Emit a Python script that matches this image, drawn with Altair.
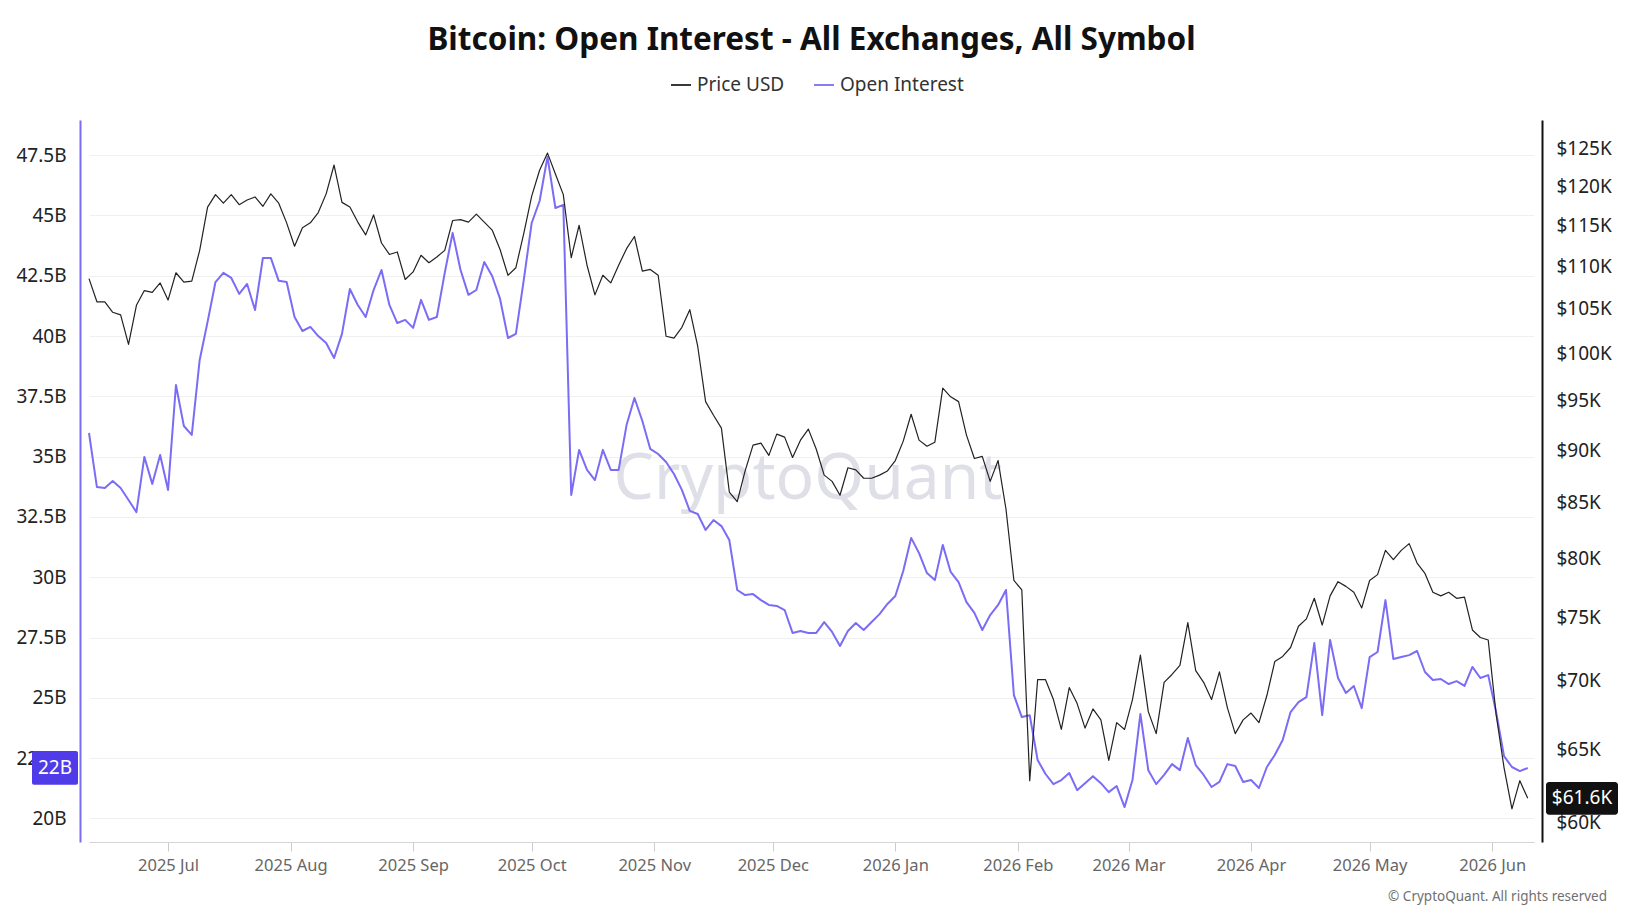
import altair as alt
import pandas as pd

TITLE = "Bitcoin: Open Interest - All Exchanges, All Symbol"
SERIES = ["Price USD", "Open Interest"]
SERIES_COLORS = ["#222222", "#7b6cf6"]
START_DATE = "2025-06-11"
STEP = "2D"
WATERMARK = "CryptoQuant"
COPYRIGHT = "\u00a9 CryptoQuant. All rights reserved"

# Bitcoin price, thousands of USD, every 2 days from 2025-06-11
price_usd_k = [
    108.5, 105.8, 105.8, 104.6, 104.3, 101.0, 105.4, 107.1, 106.9, 108.0,
    106.0, 109.2, 108.1, 108.2, 111.9, 117.3, 118.9, 117.8, 118.9, 117.6,
    118.2, 118.6, 117.4, 119.0, 117.8, 115.3, 112.4, 114.7, 115.3, 116.6,
    119.0, 122.8, 117.9, 117.3, 115.4, 113.8, 116.3, 112.8, 111.4, 111.7,
    108.4, 109.3, 111.3, 110.4, 111.1, 111.9, 115.6, 115.7, 115.4, 116.4,
    115.4, 114.4, 112.0, 108.9, 109.8, 114.0, 118.7, 122.1, 124.4, 121.6,
    118.9, 111.0, 115.0, 110.1, 106.6, 108.9, 108.0, 110.1, 112.1, 113.6,
    109.4, 109.6, 108.9, 101.9, 101.7, 102.9, 104.9, 100.8, 94.9, 93.5,
    92.2, 86.0, 85.1, 88.0, 90.5, 90.7, 89.5, 91.6, 91.3, 89.3,
    91.0, 92.1, 90.1, 87.6, 87.0, 85.7, 88.3, 88.1, 87.3, 87.3,
    87.6, 88.0, 89.0, 90.9, 93.6, 91.0, 90.4, 90.8, 96.3, 95.4,
    94.9, 91.5, 89.2, 89.4, 87.0, 89.0, 84.4, 78.1, 77.3, 62.8,
    70.1, 70.1, 68.6, 66.4, 69.5, 68.3, 66.5, 67.9, 67.1, 64.2,
    66.9, 66.4, 68.6, 72.0, 67.7, 66.1, 69.9, 70.5, 71.2, 74.6,
    70.8, 69.9, 68.6, 70.7, 68.0, 66.1, 67.1, 67.6, 66.9, 68.9,
    71.5, 71.9, 72.6, 74.3, 74.9, 76.6, 74.4, 76.8, 78.0, 77.6,
    77.1, 75.8, 78.1, 78.6, 80.7, 79.9, 80.7, 81.3, 79.6, 78.7,
    77.1, 76.8, 77.1, 76.6, 76.7, 74.0, 73.4, 73.2, 67.5, 63.7,
    60.9, 62.8, 61.6,
]

# Open interest, billions of USD, same dates
open_interest_b = [
    35.98, 33.74, 33.70, 33.99, 33.70, 33.20, 32.70, 34.99, 33.87, 35.07,
    33.62, 37.97, 36.27, 35.90, 39.01, 40.59, 42.24, 42.62, 42.41, 41.75,
    42.16, 41.08, 43.24, 43.24, 42.29, 42.24, 40.79, 40.21, 40.38, 40.00,
    39.71, 39.09, 40.09, 41.95, 41.29, 40.79, 41.91, 42.74, 41.29, 40.54,
    40.67, 40.34, 41.50, 40.67, 40.79, 42.62, 44.28, 42.74, 41.71, 41.91,
    43.07, 42.49, 41.54, 39.92, 40.09, 42.33, 44.69, 45.60, 47.43, 45.31,
    45.44, 33.41, 35.28, 34.45, 34.03, 35.28, 34.45, 34.45, 36.31, 37.43,
    36.48, 35.32, 35.11, 34.78, 34.28, 33.62, 32.75, 32.62, 31.96, 32.37,
    32.12, 31.54, 29.47, 29.26, 29.30, 29.05, 28.85, 28.81, 28.64, 27.69,
    27.77, 27.69, 27.69, 28.14, 27.73, 27.15, 27.77, 28.10, 27.81, 28.14,
    28.47, 28.89, 29.22, 30.26, 31.63, 31.00, 30.17, 29.88, 31.34, 30.22,
    29.80, 28.97, 28.52, 27.81, 28.43, 28.85, 29.47, 25.11, 24.20, 24.28,
    22.42, 21.84, 21.42, 21.59, 21.88, 21.17, 21.46, 21.75, 21.46, 21.09,
    21.34, 20.47, 21.59, 24.33, 22.00, 21.42, 21.80, 22.25, 22.00, 23.33,
    22.21, 21.80, 21.30, 21.51, 22.25, 22.17, 21.51, 21.59, 21.26, 22.13,
    22.63, 23.25, 24.41, 24.82, 25.03, 27.27, 24.28, 27.40, 25.82, 25.20,
    25.49, 24.57, 26.69, 26.90, 29.05, 26.61, 26.69, 26.77, 26.94, 26.07,
    25.74, 25.78, 25.57, 25.69, 25.49, 26.28, 25.82, 25.94, 24.41, 22.58,
    22.13, 21.96, 22.09,
]

oi_ticks = [20, 22.5, 25, 27.5, 30, 32.5, 35, 37.5, 40, 42.5, 45, 47.5]
price_ticks = [60, 65, 70, 75, 80, 85, 90, 95, 100, 105, 110, 115, 120, 125]
month_ticks = [(2025, 7), (2025, 8), (2025, 9), (2025, 10), (2025, 11), (2025, 12),
               (2026, 1), (2026, 2), (2026, 3), (2026, 4), (2026, 5), (2026, 6)]

W, H = 1445, 722
FONT = "Noto Sans"

dates = pd.date_range(START_DATE, periods=len(price_usd_k), freq=STEP)
price_df = pd.DataFrame({"date": dates, "price": price_usd_k, "series": SERIES[0]})
oi_df = pd.DataFrame({"date": dates, "oi": open_interest_b, "series": SERIES[1]})

x_scale = alt.Scale(domain=[alt.DateTime(year=2025, month=6, date=11),
                            alt.DateTime(year=2026, month=6, date=11, hours=14)])
x_axis = alt.Axis(values=[alt.DateTime(year=y, month=m, date=1) for y, m in month_ticks],
                  format="%Y %b", labelFontSize=16.5, labelColor="#666666", labelFont=FONT,
                  tickColor="#cccccc", tickSize=9, domainColor="#d4d4d4", grid=False,
                  labelPadding=6, title=None)
x_enc = alt.X("date:T", scale=x_scale, axis=x_axis)

oi_scale = alt.Scale(domain=[19.02, 48.96], nice=False, zero=False)
oi_axis = alt.Axis(orient="left", offset=9, values=oi_ticks, labelExpr="datum.value + 'B'",
                   labelFontSize=19, labelColor="#222222", labelFont=FONT, ticks=False,
                   labelPadding=14, domainColor="#7b6cf6", domainWidth=2,
                   grid=True, gridColor="#f0f0f0", gridWidth=1, title=None)

price_scale = alt.Scale(type="log", domain=[58.74, 128.97], nice=False, zero=False)
price_axis = alt.Axis(orient="right", offset=8, values=price_ticks,
                      labelExpr="'$' + datum.value + 'K'", labelFontSize=19,
                      labelColor="#222222", labelFont=FONT, ticks=False, labelPadding=14,
                      domainColor="#111111", domainWidth=2, grid=False, title=None)

color_enc = alt.Color(
    "series:N",
    scale=alt.Scale(domain=SERIES, range=SERIES_COLORS),
    legend=alt.Legend(orient="none", legendX=581, legendY=-46, direction="horizontal",
                      title=None, symbolType="stroke", symbolSize=400,
                      symbolStrokeWidth=1.8, labelFontSize=19, labelColor="#333333",
                      labelFont=FONT, columnPadding=25, labelOffset=5, padding=0),
)

# ---- Open interest group (left axis) ----
watermark = alt.Chart(pd.DataFrame({"t": [WATERMARK]})).mark_text(
    fontSize=64, color="#dfdfe8", font=FONT, align="center", baseline="alphabetic"
).encode(text="t:N", x=alt.value(719), y=alt.value(379))

oi_line = alt.Chart(oi_df).mark_line(strokeWidth=2, strokeJoin="round").encode(
    x=x_enc, y=alt.Y("oi:Q", scale=oi_scale, axis=oi_axis), color=color_enc
)

last_oi = open_interest_b[-1]
oi_badge_df = pd.DataFrame({"oi": [last_oi], "lo": [last_oi - 0.7], "hi": [last_oi + 0.7],
                            "label": [f"{last_oi:.0f}B"]})
oi_badge_rect = alt.Chart(oi_badge_df).mark_rect(color="#4f3ce8", cornerRadius=2).encode(
    x=alt.value(-57), x2=alt.value(-11),
    y=alt.Y("lo:Q", scale=oi_scale, axis=oi_axis), y2="hi:Q"
)
oi_badge_text = alt.Chart(oi_badge_df).mark_text(
    color="white", fontSize=19, font=FONT, align="center", baseline="middle"
).encode(x=alt.value(-34), y=alt.Y("oi:Q", scale=oi_scale, axis=oi_axis), text="label:N")

group_oi = alt.layer(watermark, oi_line, oi_badge_rect, oi_badge_text)

# ---- Price group (right axis, log) ----
price_line = alt.Chart(price_df).mark_line(strokeWidth=1.2, strokeJoin="round").encode(
    x=x_enc, y=alt.Y("price:Q", scale=price_scale, axis=price_axis), color=color_enc
)

last_price = price_usd_k[-1]
pb = 1.0181
price_badge_df = pd.DataFrame({"price": [last_price], "lo": [last_price / pb],
                               "hi": [last_price * pb], "label": [f"${last_price:.1f}K"]})
price_badge_rect = alt.Chart(price_badge_df).mark_rect(color="#111111", cornerRadius=3).encode(
    x=alt.value(1457), x2=alt.value(1529),
    y=alt.Y("lo:Q", scale=price_scale, axis=price_axis), y2="hi:Q"
)
price_badge_text = alt.Chart(price_badge_df).mark_text(
    color="white", fontSize=19, font=FONT, align="center", baseline="middle"
).encode(x=alt.value(1493), y=alt.Y("price:Q", scale=price_scale, axis=price_axis),
         text="label:N")

copyright_txt = alt.Chart(pd.DataFrame({"t": [COPYRIGHT]})).mark_text(
    fontSize=13.5, color="#707070", font=FONT, align="right", baseline="middle"
).encode(text="t:N", x=alt.value(1518), y=alt.value(777))

group_price = alt.layer(price_line, price_badge_rect, price_badge_text, copyright_txt)

chart = (
    alt.layer(group_oi, group_price)
    .resolve_scale(y="independent")
    .properties(
        width=W, height=H,
        title=alt.TitleParams(TITLE, fontSize=31.5, fontWeight="bold", font=FONT,
                              color="#111111", anchor="middle", offset=18),
        autosize=alt.AutoSizeParams(type="none"),
        padding={"left": 81, "top": 112, "right": 94, "bottom": 64},
        background="white",
    )
    .configure(font=FONT)
    .configure_view(stroke=None, strokeWidth=0)
)

chart.save("out.html", embed_options={"renderer": "svg", "actions": False})
